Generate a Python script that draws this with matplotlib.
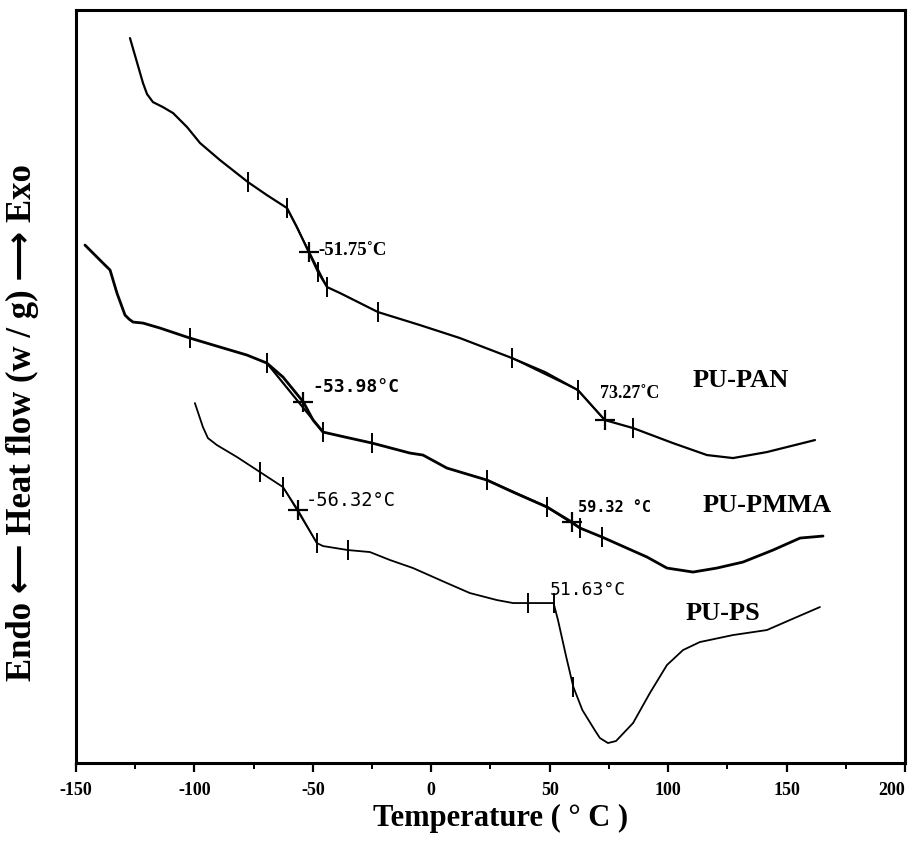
import numpy as np
import matplotlib
matplotlib.use("Agg")
import matplotlib.pyplot as plt
from matplotlib.ticker import MultipleLocator

plt.rcParams["axes.unicode_minus"] = False

# DSC traces, temperature in degC, heat flow in arbitrary (offset) units
pan_t = [-127.2, -121.7, -120.0, -117.5, -113.3, -109.0, -103.1, -97.6, -89.2, -77.4,
         -69.4, -60.9, -56.7, -51.75, -47.8, -44.0, -38.5, -22.5, -4.8, 12.1,
         34.1, 48.0, 61.9, 73.27, 85.2, 102.0, 116.4, 127.4, 141.7, 162.0]
pan_hf = [7.25, 6.80, 6.69, 6.61, 6.56, 6.50, 6.36, 6.20, 6.03, 5.81,
          5.68, 5.55, 5.36, 5.11, 4.91, 4.76, 4.70, 4.51, 4.38, 4.25,
          4.05, 3.91, 3.73, 3.43, 3.35, 3.20, 3.08, 3.05, 3.11, 3.23]

pmma_t = [-146.2, -138.6, -135.6, -132.7, -129.3, -127.6, -125.9, -121.7, -114.5, -101.9,
          -89.2, -77.8, -69.4, -62.6, -53.98, -49.9, -45.7, -36.4, -25.0, -9.0,
          -3.5, 6.6, 23.5, 34.5, 48.9, 59.32, 62.8, 72.1, 91.1, 99.5,
          110.5, 120.6, 131.6, 144.3, 155.7, 165.4]
pmma_hf = [5.18, 5.00, 4.93, 4.70, 4.48, 4.44, 4.41, 4.40, 4.35, 4.25,
           4.16, 4.08, 4.00, 3.86, 3.61, 3.43, 3.31, 3.26, 3.20, 3.10,
           3.08, 2.95, 2.83, 2.71, 2.56, 2.41, 2.35, 2.26, 2.06, 1.95,
           1.91, 1.95, 2.01, 2.13, 2.25, 2.27]

ps_t = [-99.8, -96.4, -94.3, -90.5, -82.0, -72.3, -62.6, -56.32, -48.3, -45.7,
        -35.2, -25.9, -17.4, -7.7, 6.6, 16.3, 27.7, 34.5, 40.8, 51.63,
        53.5, 57.0, 60.0, 63.8, 69.0, 71.2, 74.6, 78.0, 85.2, 92.3,
        99.5, 106.3, 113.4, 127.4, 141.7, 151.4, 164.1]
ps_hf = [3.60, 3.36, 3.25, 3.18, 3.06, 2.91, 2.76, 2.53, 2.20, 2.17,
         2.13, 2.11, 2.03, 1.95, 1.80, 1.70, 1.63, 1.60, 1.60, 1.60,
         1.43, 1.06, 0.76, 0.53, 0.33, 0.25, 0.20, 0.22, 0.40, 0.70,
         0.98, 1.13, 1.21, 1.28, 1.33, 1.43, 1.56]

# onset / end ticks placed by the instrument software, and the Tg midpoints
pan_ticks = [-77.4, -60.9, -47.8, -44.0, -22.5, 34.1, 61.9, 85.2]
pan_tg = [-51.75, 73.27]
pmma_ticks = [-101.9, -69.4, -45.7, -25.0, 23.5, 48.9, 62.8, 72.1]
pmma_tg = [-53.98, 59.32]
ps_ticks = [-72.3, -62.6, -48.3, -35.2, 40.8, 51.63, 60.0]
ps_tg = [-56.32]

# tangent chords across each transition
pan_chords = [(-60.9, -44.0), (34.1, 61.9), (61.9, 73.27)]
pmma_chords = [(-69.4, -45.7), (23.5, 48.9), (48.9, 62.8)]
ps_chords = [(-62.6, -48.3)]

temp_ticks = [-150, -100, -50, 0, 50, 100, 150, 200]

fig = plt.figure(figsize=(9.12, 8.41), dpi=100)
ax = fig.add_axes([0.0833, 0.0927, 0.9090, 0.8953])

serif = ["Liberation Serif", "DejaVu Sans"]


def draw_trace(t, hf, ticks, tg, chords, lw):
    t = np.asarray(t)
    hf = np.asarray(hf)
    ax.plot(t, hf, color="black", lw=lw, solid_capstyle="round", solid_joinstyle="round")
    at = lambda x: np.interp(x, t, hf)
    for a, b in chords:
        ax.plot([a, b], [at(a), at(b)], color="black", lw=lw * 0.8)
    ax.plot(ticks, at(ticks), ls="none", marker="|", ms=14, mew=1.4, color="black")
    ax.plot(tg, at(tg), ls="none", marker="+", ms=14, mew=1.6, color="black")


draw_trace(pan_t, pan_hf, pan_ticks, pan_tg, pan_chords, 1.6)
draw_trace(pmma_t, pmma_hf, pmma_ticks, pmma_tg, pmma_chords, 2.0)
draw_trace(ps_t, ps_hf, ps_ticks, ps_tg, ps_chords, 1.3)

# Tg annotations, each in the style printed by the analyser
ax.text(-47.8, 5.13, "-51.75\u02daC", fontsize=13.5, fontweight="bold",
        family=serif, va="center", ha="left")
ax.text(71.2, 3.70, "73.27\u02daC", fontsize=13, fontweight="bold",
        family=serif, va="center", ha="left")
ax.text(-50.4, 3.76, "-53.98\u00b0C", fontsize=13, fontweight="bold",
        family="DejaVu Sans Mono", va="center", ha="left")
ax.text(61.9, 2.56, "59.32 \u00b0C", fontsize=11, fontweight="bold",
        family="DejaVu Sans Mono", va="center", ha="left")
ax.text(-52.9, 2.63, "-56.32\u00b0C", fontsize=13.5,
        family="DejaVu Sans Mono", va="center", ha="left")
ax.text(50.1, 1.73, "51.63\u00b0C", fontsize=13,
        family="DejaVu Sans Mono", va="center", ha="left")

# sample names
for name, x, y in [("PU-PAN", 130.8, 3.83), ("PU-PMMA", 141.7, 2.58), ("PU-PS", 123.2, 1.50)]:
    ax.text(x, y, name, fontsize=19, fontweight="bold", family=serif,
            ha="center", va="center")

ax.set_xlim(-150, 200)
ax.set_ylim(0, 7.53)
ax.set_xticks(temp_ticks)
ax.xaxis.set_minor_locator(MultipleLocator(25))
ax.tick_params(axis="x", which="major", direction="out", length=6.5, width=1.6, pad=7)
ax.tick_params(axis="x", which="minor", direction="out", length=4.5, width=1.4)
ax.set_yticks([])
for lab in ax.get_xticklabels():
    lab.set_family(serif)
    lab.set_fontweight("bold")
    lab.set_fontsize(13)
# last label sits against the right edge of the page
ax.get_xticklabels()[-1].set_horizontalalignment("right")
for sp in ax.spines.values():
    sp.set_linewidth(2.2)

fig.text(0.549, 0.027, "Temperature ( \u00b0 C )", fontsize=22, fontweight="bold",
         family=serif, ha="center", va="center")
fig.text(0.025, 0.498, "Endo \u27f5 Heat flow (w / g) \u27f6 Exo", fontsize=25,
         fontweight="bold", family=serif, rotation=90, ha="center", va="center")

fig.savefig("out.png", dpi=100)
